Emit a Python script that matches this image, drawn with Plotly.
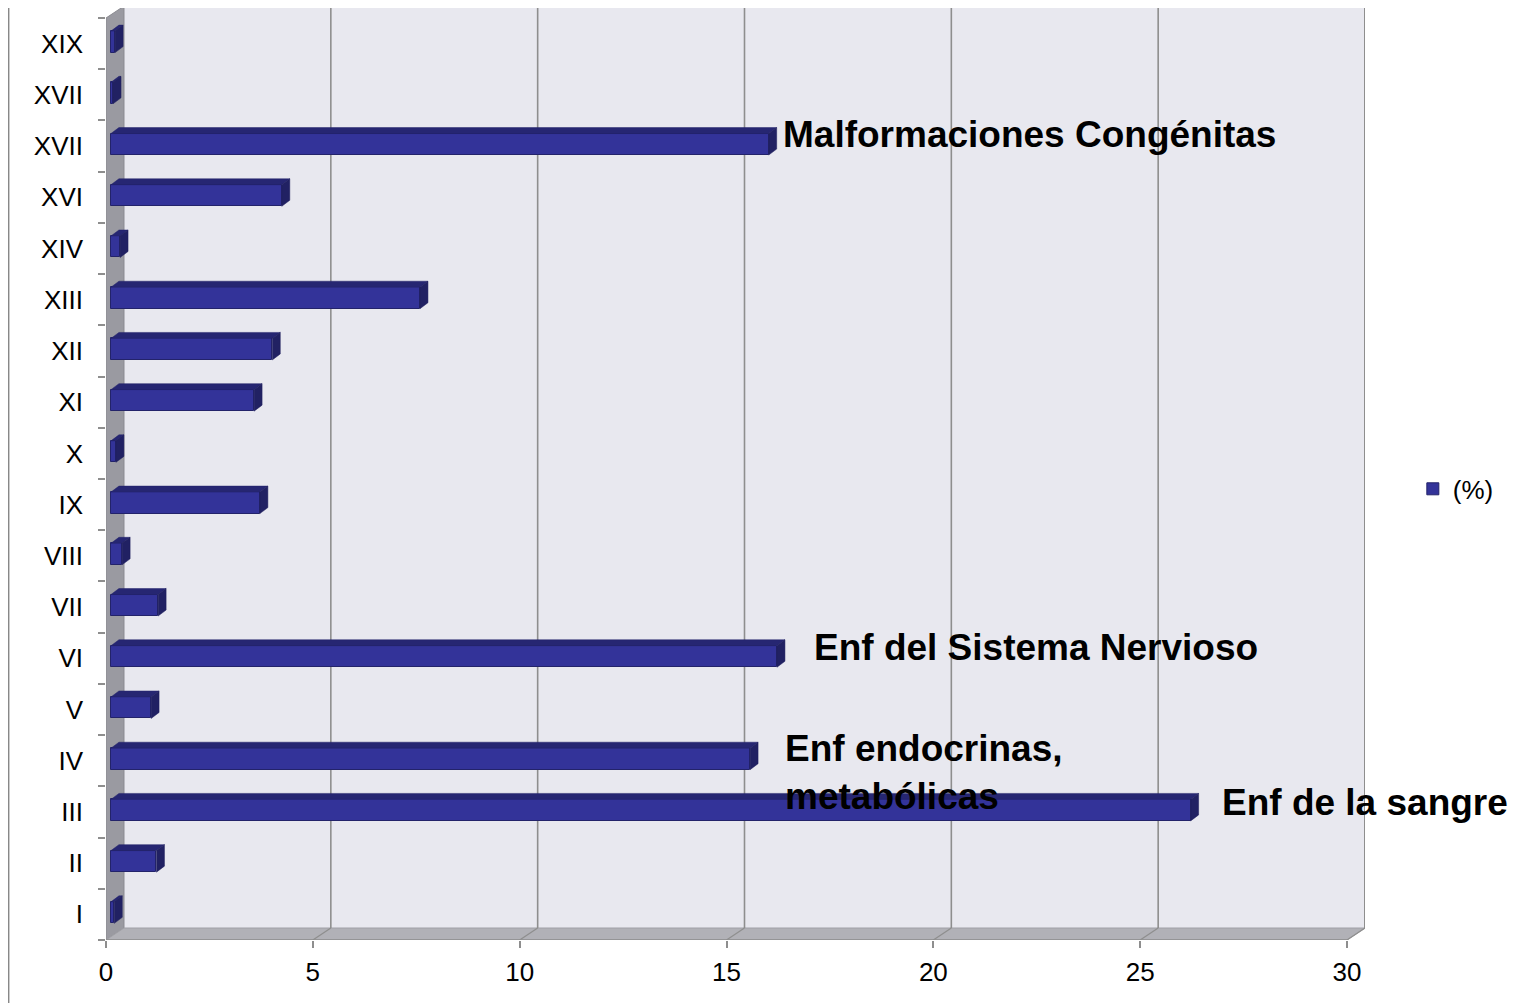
import plotly.graph_objects as go

# ---- data (bottom to top) ----
categories = ["I", "II", "III", "IV", "V", "VI", "VII", "VIII", "IX", "X",
              "XI", "XII", "XIII", "XIV", "XVI", "XVII", "XVII", "XIX"]
values = [0.08, 1.1, 26.1, 15.45, 0.97, 16.1, 1.14, 0.27, 3.6, 0.12,
          3.46, 3.9, 7.47, 0.22, 4.13, 15.9, 0.05, 0.1]
series_name = "(%)"
x_ticks = [0, 5, 10, 15, 20, 25, 30]
callouts = [
    ("Malformaciones Congénitas", 15),
    ("Enf del Sistema Nervioso", 5),
    ("Enf endocrinas,<br>metabólicas", 3),
    ("Enf de la sangre", 2),
]

# ---- 3D geometry (in axis units) ----
DX, DY = 0.435, 0.234          # back wall offset
BX, BY = 0.12, 0.035           # bar offset from front plane
BW = 0.42                      # bar thickness
TX, TY = 0.193, 0.117          # bar top/side depth
XMAX = 30
YLO, YHI = -0.5, len(categories) - 0.5
YTOP = 17.696

FONT = "Arial, Liberation Sans, sans-serif"
n = len(categories)
ypos = [i + BY for i in range(n)]

fig = go.Figure()

fig.add_trace(go.Bar(
    y=ypos, x=values, base=[BX] * n, orientation="h", width=BW,
    marker=dict(color="#333399", line=dict(color="#23236a", width=1)),
    name=series_name, hoverinfo="x",
))

# top faces and side faces
tx, ty, sx, sy = [], [], [], []
for yc, v in zip(ypos, values):
    yt, yb = yc + BW / 2, yc - BW / 2
    x0, x1 = BX, BX + v
    tx += [x0, x1, x1 + TX, x0 + TX, x0, None]
    ty += [yt, yt, yt + TY, yt + TY, yt, None]
    sx += [x1, x1, x1 + TX, x1 + TX, x1, None]
    sy += [yb, yt, yt + TY, yb + TY, yb, None]
fig.add_trace(go.Scatter(x=tx, y=ty, mode="lines", fill="toself",
                         fillcolor="#262672", line=dict(color="#22226a", width=0.5),
                         showlegend=False, hoverinfo="skip"))
fig.add_trace(go.Scatter(x=sx, y=sy, mode="lines", fill="toself",
                         fillcolor="#212163", line=dict(color="#1e1e5c", width=0.5),
                         showlegend=False, hoverinfo="skip"))

shapes = []
# back wall
shapes.append(dict(type="rect", xref="x", yref="y", x0=DX, x1=XMAX + DX,
                   y0=YLO + DY, y1=YHI + DY, fillcolor="#e8e8ef",
                   line=dict(width=0), layer="below"))
# left wall
shapes.append(dict(type="path", xref="x", yref="y",
                   path=f"M0,{YLO} L0,{YHI} L{DX},{YHI+DY} L{DX},{YLO+DY} Z",
                   fillcolor="#9a9aa1", line=dict(color="#8a8a90", width=1), layer="below"))
# floor
shapes.append(dict(type="path", xref="x", yref="y",
                   path=f"M0,{YLO} L{XMAX},{YLO} L{XMAX+DX},{YLO+DY} L{DX},{YLO+DY} Z",
                   fillcolor="#b1b1b7", line=dict(color="#a0a0a6", width=1), layer="below"))
# grid lines on back wall + floor diagonals
for t in x_ticks[1:]:
    shapes.append(dict(type="line", xref="x", yref="y", x0=t + DX, x1=t + DX,
                       y0=YLO + DY, y1=YHI + DY,
                       line=dict(color="#8e8e8e", width=2 if t == XMAX else 1.6), layer="below"))
    shapes.append(dict(type="line", xref="x", yref="y", x0=t, x1=t + DX,
                       y0=YLO, y1=YLO + DY,
                       line=dict(color="#8e8e8e", width=1.2), layer="below"))
# front floor edge
shapes.append(dict(type="line", xref="x", yref="y", x0=0, x1=XMAX, y0=YLO, y1=YLO,
                   line=dict(color="#8e8e8e", width=1.5), layer="below"))
# outer frame lines
for xp in [-0.0775, 1.1215]:
    shapes.append(dict(type="line", xref="paper", yref="paper", x0=xp, x1=xp,
                       y0=-0.1, y1=1.1, line=dict(color="#888888", width=2)))

ann_pos = {15: (16.32, 15.22), 5: (17.07, 5.22), 3: (16.37, 2.78), 2: (26.93, 2.19)}
annotations = []
for text, idx in callouts:
    ax, ay = ann_pos[idx]
    annotations.append(dict(x=ax, y=ay, xref="x", yref="y", text=f"<b>{text}</b>",
                            showarrow=False, xanchor="left", yanchor="middle", align="left",
                            font=dict(family=FONT, size=37, color="black")))

fig.update_layout(
    width=1513, height=995,
    margin=dict(l=98, r=156, t=0, b=63),
    paper_bgcolor="white", plot_bgcolor="rgba(0,0,0,0)",
    font=dict(family=FONT, size=26, color="black"),
    shapes=shapes, annotations=annotations,
    showlegend=True,
    legend=dict(x=1.038, y=0.484, xanchor="left", yanchor="middle",
                font=dict(family=FONT, size=26, color="black"),
                bgcolor="rgba(0,0,0,0)"),
    bargap=0,
)
fig.update_xaxes(range=[0, XMAX + DX], tickvals=x_ticks, ticktext=[str(t) for t in x_ticks],
                 showgrid=False, zeroline=False, showline=False,
                 ticks="outside", ticklen=7, tickcolor="#8e8e8e", tickwidth=1.5,
                 ticklabelstandoff=2,
                 tickfont=dict(family=FONT, size=26, color="black"))
fig.update_yaxes(range=[YLO, YTOP], tickvals=list(range(n)), ticktext=categories,
                 showgrid=False, zeroline=False, showline=False, ticks="",
                 ticklabelstandoff=22,
                 minor=dict(tick0=-0.5, dtick=1, ticks="outside", ticklen=7,
                            tickcolor="#8e8e8e", tickwidth=1.5, showgrid=False),
                 tickfont=dict(family=FONT, size=26, color="black"))

fig.write_html("out.html")
